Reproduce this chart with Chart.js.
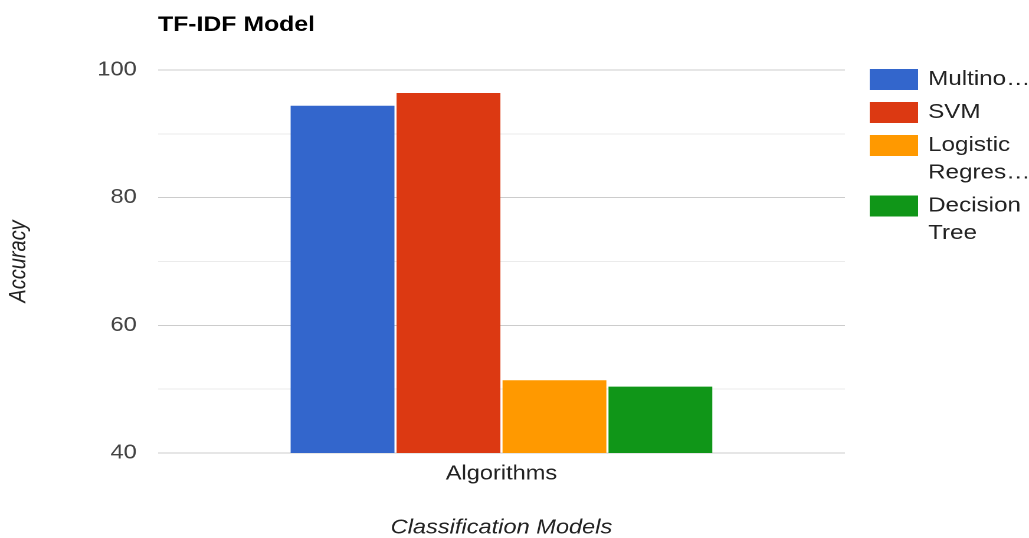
<!DOCTYPE html>
<html>
<head>
<meta charset="utf-8">
<script src="https://cdn.jsdelivr.net/npm/chart.js@4/dist/chart.umd.min.js"></script>
<style>
  html, body { margin: 0; padding: 0; background: #fff; overflow: hidden; }
  #wrap { width: 1029px; height: 538px; overflow: hidden; }
  /* the chart is laid out on a narrower canvas and widened horizontally */
  #c { display: block; width: 872px; height: 538px; transform: scaleX(1.18005); transform-origin: 0 0; }
</style>
</head>
<body>
<div id="wrap"><canvas id="c" width="872" height="538"></canvas></div>
<script>
// ---- data ----
const chartTitle = 'TF-IDF Model';
const categories = ['Algorithms'];
const seriesNames = ['Multinomial Naive Bayes', 'SVM', 'Logistic Regression', 'Decision Tree'];
const seriesColors = ['#3366cc', '#dc3912', '#ff9900', '#109618'];
const multinomialNB = [94.4];
const svm = [96.4];
const logisticRegression = [51.4];
const decisionTree = [50.4];
const yTickLabels = [40, 60, 80, 100];
const xAxisTitle = 'Classification Models';
const yAxisTitle = 'Accuracy';

const FONT = "'Liberation Sans', Arial, Helvetica, sans-serif";
Chart.defaults.font.family = FONT;

// Wrap a legend label into at most maxLines lines, cutting with an ellipsis.
function wrapLabel(ctx, text, maxW, maxLines) {
  const fits = s => ctx.measureText(s).width <= maxW;
  const clip = s => {
    let t = s;
    while (t.length && !fits(t + '\u2026')) t = t.slice(0, -1);
    return t + '\u2026';
  };
  const words = text.split(' ');
  const lines = [];
  let cur = '';
  for (let i = 0; i < words.length; i++) {
    const cand = cur ? cur + ' ' + words[i] : words[i];
    if (fits(cand)) { cur = cand; continue; }
    if (!cur) { lines.push(clip(words[i])); return lines; }
    lines.push(cur);
    if (lines.length >= maxLines - 1) {
      const rest = words.slice(i).join(' ');
      lines.push(fits(rest) ? rest : clip(rest));
      return lines;
    }
    cur = words[i];
  }
  if (cur) lines.push(cur);
  return lines;
}

// Legend drawn in a column to the right of the plot.
const sideLegend = {
  id: 'sideLegend',
  afterDraw(chart, args, o) {
    const ctx = chart.ctx;
    ctx.save();
    ctx.font = `${o.fontSize}px ${FONT}`;
    ctx.textBaseline = 'middle';
    ctx.textAlign = 'left';
    let y = o.top;
    chart.data.datasets.forEach(ds => {
      const lines = wrapLabel(ctx, ds.label, o.maxWidth, o.maxLines);
      ctx.fillStyle = ds.backgroundColor;
      ctx.fillRect(o.boxLeft, y - o.boxHeight / 2, o.boxWidth, o.boxHeight);
      ctx.fillStyle = o.color;
      lines.forEach((ln, i) => ctx.fillText(ln, o.textLeft, y + i * o.lineHeight));
      y += o.entryGap + (lines.length - 1) * o.lineHeight;
    });
    ctx.restore();
  }
};

const seriesValues = [multinomialNB, svm, logisticRegression, decisionTree];

new Chart(document.getElementById('c'), {
  type: 'bar',
  data: {
    labels: categories,
    datasets: seriesNames.map((name, i) => ({
      label: name,
      data: seriesValues[i],
      backgroundColor: seriesColors[i],
      borderWidth: 0,
      categoryPercentage: 0.617,
      barPercentage: 0.98
    }))
  },
  plugins: [sideLegend],
  options: {
    responsive: false,
    animation: false,
    devicePixelRatio: 2,
    layout: { padding: { left: 0, right: 156, top: 0, bottom: 0 } },
    plugins: {
      legend: { display: false },
      tooltip: { enabled: false },
      title: {
        display: true,
        text: chartTitle,
        align: 'start',
        fullSize: false,
        color: '#000',
        font: { size: 21, weight: 'bold', lineHeight: 1.2 },
        padding: { top: 12.6, bottom: 32.2 }
      },
      sideLegend: {
        top: 79.5,
        boxLeft: 737,
        boxWidth: 41,
        boxHeight: 21,
        textLeft: 786.5,
        fontSize: 20.5,
        color: '#222',
        maxWidth: 89,
        maxLines: 2,
        lineHeight: 27.5,
        entryGap: 33
      }
    },
    scales: {
      x: {
        grid: { display: false, drawTicks: false },
        border: { display: false },
        ticks: { color: '#222', font: { size: 20 }, padding: 9 },
        title: {
          display: true, text: xAxisTitle, color: '#222',
          font: { size: 20, style: 'italic', lineHeight: 1 },
          padding: { top: 0, bottom: 0 }
        },
        afterFit(s) { s.height = 85; }
      },
      y: {
        min: 40,
        max: 100,
        ticks: {
          stepSize: 10,
          padding: 18,
          color: '#444',
          font: { size: 20 },
          callback: v => (yTickLabels.includes(v) ? String(v) : '')
        },
        grid: {
          drawTicks: false,
          lineWidth: 1,
          color: c => (yTickLabels.includes(c.tick.value) ? '#cccccc' : '#ebebeb')
        },
        border: { display: false },
        title: {
          display: true, text: yAxisTitle, color: '#222',
          font: { size: 20, style: 'italic', lineHeight: 1.2 },
          padding: { top: 4, bottom: 0 }
        },
        afterFit(s) { s.width = 133.9; }
      }
    }
  }
});
</script>
</body>
</html>
